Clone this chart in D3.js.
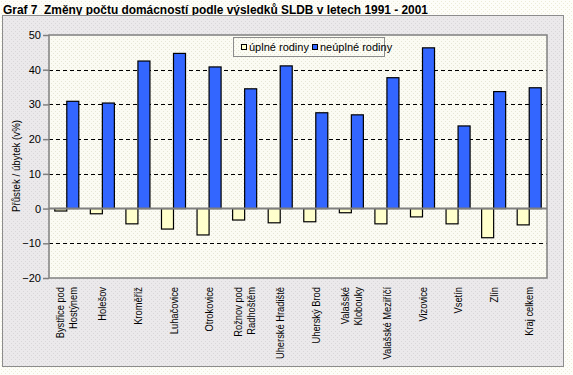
<!DOCTYPE html>
<html>
<head>
<meta charset="utf-8">
<script src="https://cdn.jsdelivr.net/npm/d3@7"></script>
<style>
  body { margin: 0; background: #fdfdf8; }
  svg { display: block; font-family: "Liberation Sans", Arial, sans-serif; }
</style>
</head>
<body>
<script>
// data
var categories = ["Bystřice pod\nHostýnem", "Holešov", "Kroměříž", "Luhačovice", "Otrokovice",
  "Rožnov pod\nRadhoštěm", "Uherské Hradiště", "Uherský Brod", "Valašské\nKlobouky",
  "Valašské Meziříčí", "Vizovice", "Vsetín", "Zlín", "Kraj celkem"];
var upleRodiny = [-0.7, -1.5, -4.4, -5.9, -7.6, -3.3, -4.1, -3.8, -1.2, -4.4, -2.4, -4.4, -8.4, -4.7];
var neupleRodiny = [30.9, 30.4, 42.5, 44.7, 40.8, 34.5, 41.1, 27.6, 27.0, 37.7, 46.3, 23.8, 33.7, 34.8];
var seriesNames = ["úplné rodiny", "neúplné rodiny"];
var seriesColors = ["#ffffcc", "#3366ff"];
var yTicks = [-20, -10, 0, 10, 20, 30, 40, 50];
var gridTicks = [-10, 10, 20, 30, 40];

var W = 573, H = 375;
var plot = {left: 49, right: 547, top: 35, bottom: 278};

var svg = d3.select("body").append("svg")
    .attr("width", W)
    .attr("height", H);

// dotted textures
var defs = svg.append("defs");
function dots(id, bg, dot) {
  var p = defs.append("pattern").attr("id", id)
      .attr("width", 4).attr("height", 4).attr("patternUnits", "userSpaceOnUse");
  p.append("rect").attr("width", 4).attr("height", 4).attr("fill", bg);
  p.append("rect").attr("x", 1).attr("y", 1).attr("width", 1).attr("height", 1).attr("fill", dot);
  p.append("rect").attr("x", 3).attr("y", 3).attr("width", 1).attr("height", 1).attr("fill", dot);
}
dots("pagebg", "#fdfdf8", "#ecebd8");
dots("chartbg", "#ebe9eb", "#d9d7d9");
dots("plotbg", "#fbfbf3", "#e6e6d6");

svg.append("rect").attr("width", W).attr("height", H).attr("fill", "url(#pagebg)");

// title
svg.append("text")
    .attr("x", 3).attr("y", 14)
    .attr("font-size", 13).attr("font-weight", "bold")
    .attr("textLength", 425).attr("lengthAdjust", "spacingAndGlyphs")
    .style("white-space", "pre")
    .text("Graf 7  Změny počtu domácností podle výsledků SLDB v letech 1991 - 2001");

// chart area box
svg.append("rect")
    .attr("x", 2.5).attr("y", 15.5).attr("width", 561).attr("height", 351)
    .attr("fill", "url(#chartbg)").attr("stroke", "#8c8c8c").attr("stroke-width", 1);

// scales
var y = d3.scaleLinear().domain([-20, 50]).range([plot.bottom, plot.top]);
var x0 = d3.scaleBand().domain(categories).range([plot.left, plot.right]).padding(0);
var x1 = d3.scaleBand().domain(seriesNames).range([0, x0.bandwidth()])
    .paddingInner(0).paddingOuter(0.48);

// plot area
svg.append("rect")
    .attr("x", plot.left).attr("y", plot.top)
    .attr("width", plot.right - plot.left).attr("height", plot.bottom - plot.top)
    .attr("fill", "url(#plotbg)");

// gridlines
svg.append("g").selectAll("line")
    .data(gridTicks)
  .enter().append("line")
    .attr("x1", plot.left).attr("x2", plot.right)
    .attr("y1", function(d) { return Math.round(y(d)) + 0.5; })
    .attr("y2", function(d) { return Math.round(y(d)) + 0.5; })
    .attr("stroke", "#000").attr("stroke-dasharray", "4,3");

// bars
var rows = categories.map(function(c, i) {
  return {cat: c, vals: [upleRodiny[i], neupleRodiny[i]]};
});
var groups = svg.append("g").selectAll("g")
    .data(rows)
  .enter().append("g")
    .attr("transform", function(d) { return "translate(" + x0(d.cat) + ",0)"; });
groups.selectAll("rect")
    .data(function(d) { return d.vals.map(function(v, j) { return {s: seriesNames[j], v: v, j: j}; }); })
  .enter().append("rect")
    .attr("x", function(d) { return x1(d.s); })
    .attr("width", x1.bandwidth())
    .attr("y", function(d) { return y(Math.max(0, d.v)); })
    .attr("height", function(d) { return Math.abs(y(d.v) - y(0)); })
    .attr("fill", function(d) { return seriesColors[d.j]; })
    .attr("stroke", "#000").attr("stroke-width", 1.2);

// zero line
svg.append("line")
    .attr("x1", plot.left).attr("x2", plot.right)
    .attr("y1", y(0)).attr("y2", y(0))
    .attr("stroke", "#808080").attr("stroke-width", 2);

// plot border
svg.append("rect")
    .attr("x", plot.left).attr("y", plot.top)
    .attr("width", plot.right - plot.left).attr("height", plot.bottom - plot.top)
    .attr("fill", "none").attr("stroke", "#808080").attr("stroke-width", 1.5);

// y axis
var yAxis = d3.axisLeft(y).tickValues(yTicks).tickSize(6).tickPadding(2);
var ya = svg.append("g")
    .attr("transform", "translate(" + plot.left + ",0)")
    .call(yAxis);
ya.select(".domain").remove();
ya.selectAll(".tick line").attr("stroke", "#808080").attr("stroke-width", 1.5);
ya.selectAll(".tick text").attr("font-size", 11).attr("fill", "#000")
    .attr("font-family", "Liberation Sans, Arial, sans-serif");

// y axis title (squeezed a bit, the original font is narrow)
svg.append("text")
    .attr("transform", "translate(20," + 166 + ") rotate(-90) scale(0.88,1)")
    .attr("text-anchor", "middle")
    .attr("font-size", 11)
    .text("Přůstek / úbytek (v%)");

// category labels
var lab = svg.append("g").selectAll("g")
    .data(categories)
  .enter().append("g")
    .attr("transform", function(d) {
      return "translate(" + (x0(d) + x0.bandwidth() / 2) + ",287) rotate(-90) scale(0.85,1)";
    });
lab.each(function(d) {
  var lines = d.split("\n");
  var t = d3.select(this).append("text")
      .attr("text-anchor", "end")
      .attr("font-size", 11);
  lines.forEach(function(l, i) {
    t.append("tspan")
        .attr("x", 0)
        .attr("y", (i - (lines.length - 1) / 2) * 13 + 4)
        .text(l);
  });
});

// legend
var legend = svg.append("g").attr("transform", "translate(233,37)");
legend.append("rect")
    .attr("x", 0.5).attr("y", 0.5).attr("width", 151).attr("height", 19)
    .attr("fill", "url(#plotbg)").attr("stroke", "#8c8c8c").attr("stroke-width", 1);
var legX = [8, 79];
seriesNames.forEach(function(s, j) {
  legend.append("rect")
      .attr("x", legX[j] + 0.5).attr("y", 7.5).attr("width", 5).attr("height", 5)
      .attr("fill", seriesColors[j]).attr("stroke", "#000");
  legend.append("text")
      .attr("x", legX[j] + 8).attr("y", 14)
      .attr("font-size", 11)
      .text(s);
});
</script>
</body>
</html>
